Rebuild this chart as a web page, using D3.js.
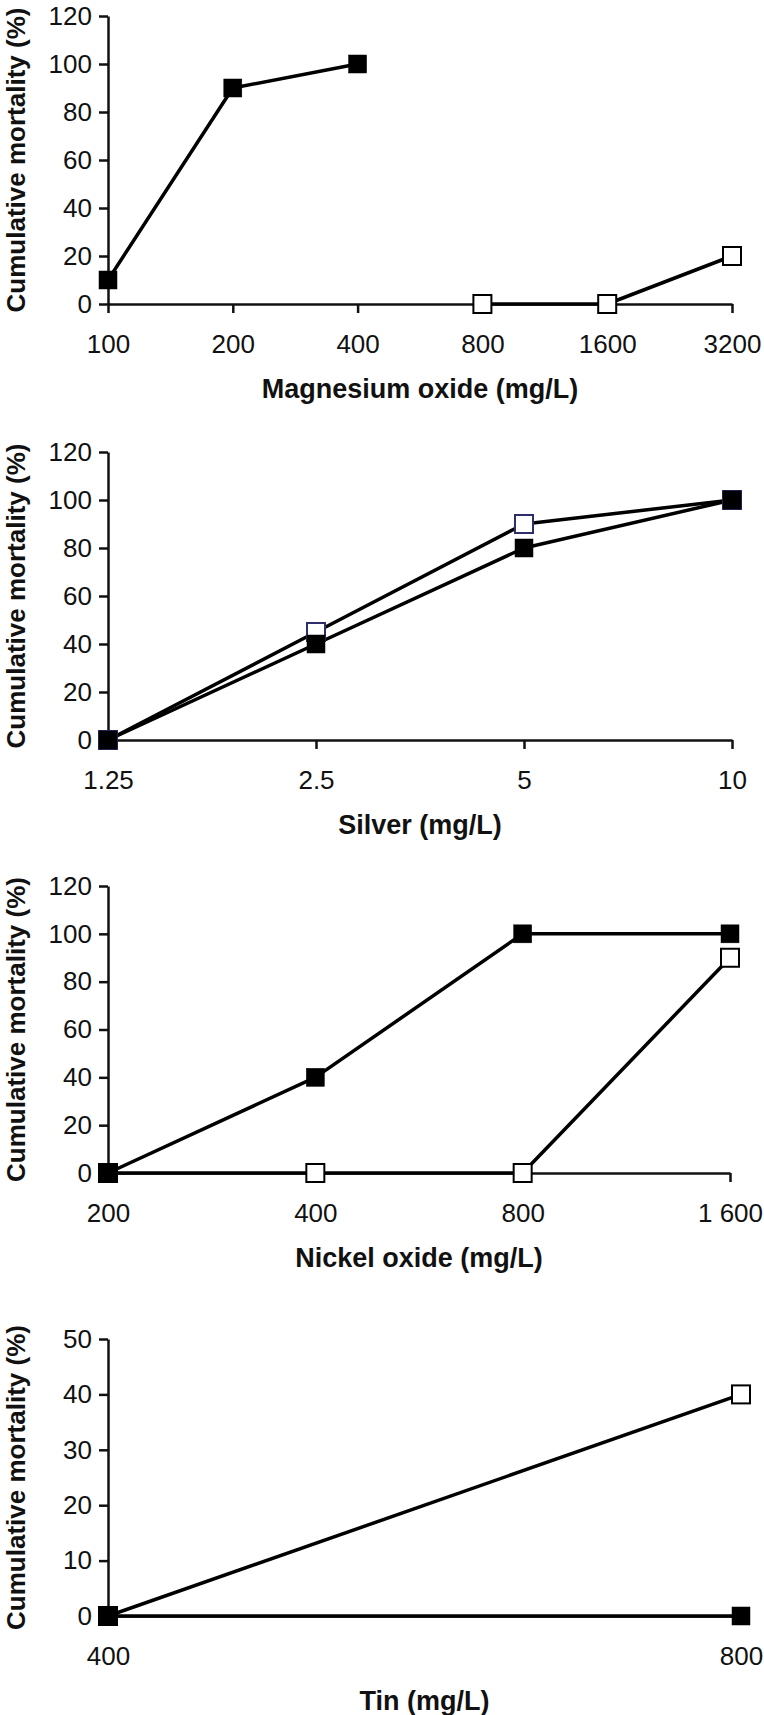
<!DOCTYPE html>
<html>
<head>
<meta charset="utf-8">
<script src="https://cdn.jsdelivr.net/npm/d3@7"></script>
<style>
  html, body { margin: 0; padding: 0; background: #fff; }
  svg { display: block; }
  .tick text { font-family: "Liberation Sans", Arial, sans-serif; font-size: 26px; fill: #111; }
  .title { font-family: "Liberation Sans", Arial, sans-serif; font-weight: bold; font-size: 27px; fill: #111; }
  .ytitle { font-family: "Liberation Sans", Arial, sans-serif; font-weight: bold; font-size: 26px; fill: #111; }
</style>
</head>
<body>
<svg id="chart" width="764" height="1715"></svg>
<script>
// ---------- DATA ----------
const magCategories = ["100", "200", "400", "800", "1600", "3200"];
const magFilled = [10, 90, 100, null, null, null];
const magOpen = [null, null, null, 0, 0, 20];
const magYTicks = [0, 20, 40, 60, 80, 100, 120];

const silverCategories = ["1.25", "2.5", "5", "10"];
const silverFilled = [0, 40, 80, 100];
const silverOpen = [0, 45, 90, 100];
const silverYTicks = [0, 20, 40, 60, 80, 100, 120];

const nickelCategories = ["200", "400", "800", "1 600"];
const nickelFilled = [0, 40, 100, 100];
const nickelOpen = [0, 0, 0, 90];
const nickelYTicks = [0, 20, 40, 60, 80, 100, 120];

const tinCategories = ["400", "800"];
const tinFilled = [0, 0];
const tinOpen = [0, 40];
const tinYTicks = [0, 10, 20, 30, 40, 50];

const yTitle = "Cumulative mortality (%)";

// ---------- LAYOUT ----------
const panels = [
  { cats: magCategories, filled: magFilled, open: magOpen, yTicks: magYTicks, yMax: 120,
    xTitle: "Magnesium oxide (mg/L)", top: 16, bottom: 304, left: 108, right: 732, openStroke: "#000" },
  { cats: silverCategories, filled: silverFilled, open: silverOpen, yTicks: silverYTicks, yMax: 120,
    xTitle: "Silver (mg/L)", top: 452, bottom: 740, left: 108, right: 732, openStroke: "#2e2e6e" },
  { cats: nickelCategories, filled: nickelFilled, open: nickelOpen, yTicks: nickelYTicks, yMax: 120,
    xTitle: "Nickel oxide (mg/L)", top: 886, bottom: 1173, left: 108, right: 730, openStroke: "#000" },
  { cats: tinCategories, filled: tinFilled, open: tinOpen, yTicks: tinYTicks, yMax: 50,
    xTitle: "Tin (mg/L)", top: 1339, bottom: 1616, left: 108, right: 741, openStroke: "#000" }
];

const svg = d3.select("#chart");
const M = 18; // marker size

panels.forEach(p => {
  const g = svg.append("g");
  const x = d3.scalePoint().domain(p.cats).range([p.left, p.right]).padding(0);
  const y = d3.scaleLinear().domain([0, p.yMax]).range([p.bottom, p.top]);

  const yAx = g.append("g")
    .attr("transform", `translate(${p.left},0)`)
    .call(d3.axisLeft(y).tickValues(p.yTicks).tickSize(9).tickSizeOuter(0).tickPadding(7));
  const xAx = g.append("g")
    .attr("transform", `translate(0,${p.bottom})`)
    .call(d3.axisBottom(x).tickSize(9).tickSizeOuter(0).tickPadding(22));
  [yAx, xAx].forEach(a => {
    a.select(".domain").attr("stroke", "#111").attr("stroke-width", 2.5);
    a.selectAll(".tick line").attr("stroke", "#111").attr("stroke-width", 2.5);
    a.selectAll(".tick text").attr("font-family", null).attr("font-size", null);
  });
  xAx.selectAll(".tick text").attr("dy", "0.71em");

  g.append("text").attr("class", "title")
    .attr("x", (p.left + p.right) / 2)
    .attr("y", p.bottom + 85)
    .attr("text-anchor", "middle")
    .attr("dominant-baseline", "central")
    .text(p.xTitle);
  g.append("text").attr("class", "ytitle")
    .attr("transform", `translate(25,${(p.top + p.bottom) / 2}) rotate(-90)`)
    .attr("text-anchor", "middle")
    .text(yTitle);

  const line = d3.line()
    .defined(d => d.v !== null)
    .x(d => x(d.c)).y(d => y(d.v));

  const series = [
    { vals: p.open, fill: "#fff", stroke: p.openStroke },
    { vals: p.filled, fill: "#000", stroke: "#000" }
  ];
  series.forEach(s => {
    const pts = p.cats.map((c, i) => ({ c, v: s.vals[i] }));
    g.append("path").datum(pts)
      .attr("d", line).attr("fill", "none")
      .attr("stroke", "#000").attr("stroke-width", 3.5)
      .attr("stroke-linejoin", "round");
  });
  series.forEach(s => {
    const pts = p.cats.map((c, i) => ({ c, v: s.vals[i] })).filter(d => d.v !== null);
    g.selectAll(null).data(pts).enter().append("rect")
      .attr("x", d => x(d.c) - M / 2)
      .attr("y", d => y(d.v) - M / 2)
      .attr("width", M).attr("height", M)
      .attr("fill", s.fill)
      .attr("stroke", s.stroke)
      .attr("stroke-width", s.fill === "#fff" ? 2 : 0.5);
  });
});
</script>
</body>
</html>
